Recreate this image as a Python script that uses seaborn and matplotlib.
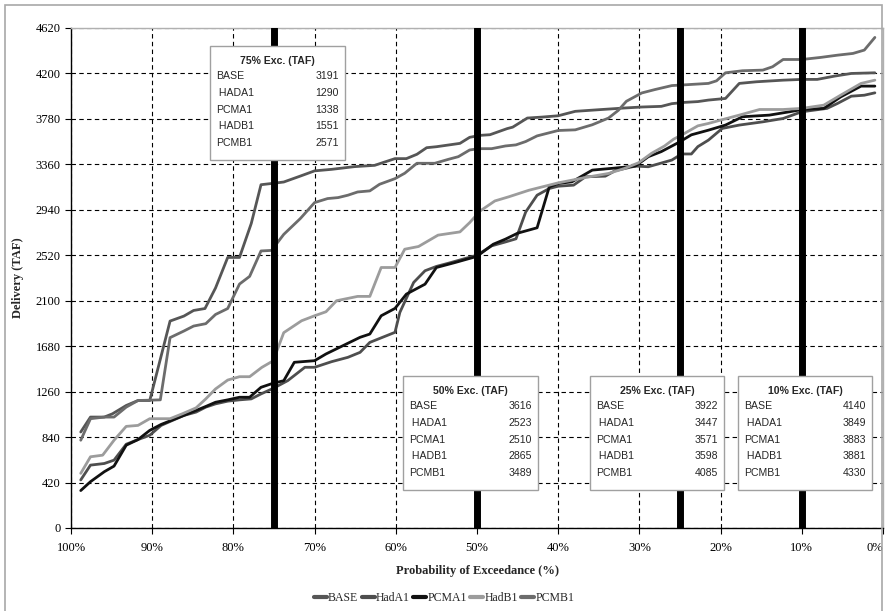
import pandas as pd
import matplotlib
matplotlib.use("Agg")
import matplotlib.pyplot as plt
import seaborn as sns
from matplotlib.patches import Rectangle

# exceedance curves (percent, TAF)
base_x = [98.8, 97.6, 95.9, 94.9, 93.2, 91.75, 90.3, 87.8, 86.1, 84.9, 83.5, 82.2, 80.7, 79.25, 77.8, 76.6, 75.1,
          73.8, 71.75, 70, 67.9, 65.1, 62.6, 61.6, 60.1, 58.7, 57.4, 56.2, 55, 52.1, 50.9, 49.6, 48.4, 46.3, 45.6,
          43.8, 41.96, 40, 37.9, 35, 31.8, 29.7, 27.3, 26, 24.4, 22.8, 21.5, 19.4, 17.7, 15.6, 12.3, 10, 8.1, 6,
          3.9, 1]
base_y = [887, 1025, 1025, 1055, 1132, 1178, 1178, 1912, 1958, 2010, 2028, 2218, 2500, 2500, 2814, 3172, 3185,
          3197, 3252, 3300, 3314, 3339, 3351, 3376, 3413, 3413, 3453, 3514, 3523, 3554, 3610, 3628, 3634, 3690,
          3704, 3788, 3797, 3809, 3850, 3865, 3881, 3890, 3896, 3921, 3933, 3940, 3954, 3969, 4108, 4123, 4138,
          4145, 4145, 4175, 4200, 4206]

hada1_x = [98.8, 97.6, 95.9, 94.7, 93.2, 91.75, 90.3, 88.9, 86.1, 84.6, 83.4, 82.2, 80.7, 79.25, 77.8, 76.6, 75.1,
           73.3, 71.2, 70, 67.9, 65.9, 64.4, 63.2, 60.1, 59.5, 57.8, 56.4, 55, 53.5, 50, 48.2, 46.5, 45.2, 44, 42.6,
           41.1, 40, 38.1, 36.65, 34.2, 33, 30.5, 28.9, 26, 24.8, 23.6, 22.8, 21.5, 19.8, 17.7, 14.8, 12.3, 10, 6.9,
           5.6, 3.9, 2.3, 1]
hada1_y = [444, 581, 596, 627, 774, 817, 857, 948, 1040, 1071, 1117, 1147, 1172, 1184, 1193, 1239, 1290, 1362,
           1485, 1485, 1537, 1577, 1623, 1715, 1808, 1992, 2269, 2377, 2417, 2447, 2521, 2607, 2643, 2672, 2920,
           3075, 3137, 3158, 3168, 3245, 3251, 3301, 3344, 3338, 3400, 3456, 3456, 3524, 3584, 3692, 3723, 3753,
           3784, 3846, 3877, 3923, 3990, 3999, 4021]

pcma1_x = [98.8, 97.6, 95.9, 94.7, 93.2, 91.75, 90.3, 88.9, 86.1, 84.6, 83.4, 82.2, 80.7, 79.25, 78, 76.6, 75.1,
           73.8, 72.5, 70, 68.6, 66.5, 64.4, 63.2, 61.8, 60.1, 58.7, 56.4, 55, 52.7, 50, 48, 46.5, 45, 42.6, 41.1,
           40, 38.3, 35.8, 33.4, 30.5, 28.9, 27.3, 25.2, 23.6, 21.5, 19.4, 17.3, 14, 11.5, 10, 7.3, 5.2, 2.7, 1]
pcma1_y = [346, 428, 520, 572, 765, 817, 902, 957, 1040, 1086, 1123, 1162, 1184, 1208, 1208, 1300, 1338, 1361,
           1531, 1546, 1608, 1685, 1762, 1792, 1961, 2029, 2161, 2253, 2407, 2453, 2510, 2622, 2669, 2724, 2774,
           3152, 3183, 3199, 3307, 3323, 3344, 3431, 3478, 3561, 3633, 3676, 3723, 3800, 3815, 3846, 3867, 3877,
           3984, 4083, 4083]

hadb1_x = [98.8, 97.6, 96.1, 94.7, 93.2, 91.75, 90.3, 87.8, 86.3, 84.6, 83.4, 82.2, 80.7, 79.25, 78, 76.5, 75.1,
           73.8, 71.6, 70, 68.6, 67.3, 64.7, 63.2, 61.8, 60.1, 58.9, 57.2, 54.8, 52.1, 50.9, 49.6, 47.8, 46.1,
           43.6, 41.96, 40, 38.3, 36.65, 33.8, 31.8, 30.1, 28.5, 26.9, 25.8, 24.4, 22.8, 21.5, 20, 17.7, 15.2, 12.3,
           10, 7.3, 5.2, 2.7, 1]
hadb1_y = [505, 658, 673, 811, 939, 948, 1010, 1010, 1055, 1110, 1193, 1285, 1367, 1398, 1398, 1484, 1545, 1805,
           1915, 1961, 1998, 2100, 2140, 2140, 2407, 2407, 2576, 2601, 2706, 2736, 2822, 2930, 3022, 3060, 3121,
           3152, 3189, 3214, 3239, 3276, 3323, 3375, 3462, 3530, 3592, 3648, 3716, 3738, 3769, 3815, 3867, 3867,
           3877, 3907, 4000, 4108, 4138]

pcmb1_x = [98.8, 97.6, 95.9, 94.7, 93.2, 91.75, 89, 87.8, 86.1, 84.9, 83.4, 82.2, 80.7, 79.25, 78, 76.6, 75.3,
           73.8, 71.75, 70, 68.4, 67.1, 65.9, 64.7, 63.2, 62, 60.1, 58.9, 57.4, 55.2, 53.5, 52.3, 50.9, 49.8, 48.2,
           46.5, 45.2, 44, 42.6, 40, 37.9, 35.8, 33.8, 32.6, 31.6, 29.7, 28.1, 26, 24.4, 21.5, 20.5, 19.4, 17.3,
           14.8, 13.6, 12.3, 10, 7.7, 5.6, 3.7, 2.3, 1]
pcmb1_y = [811, 1010, 1025, 1025, 1117, 1178, 1184, 1759, 1820, 1866, 1888, 1973, 2028, 2254, 2325, 2560, 2565,
           2713, 2860, 3007, 3044, 3053, 3075, 3105, 3115, 3176, 3228, 3278, 3370, 3370, 3407, 3431, 3493, 3505,
           3505, 3530, 3540, 3571, 3623, 3673, 3679, 3726, 3788, 3859, 3943, 4020, 4051, 4088, 4095, 4108, 4132,
           4206, 4225, 4231, 4262, 4329, 4329, 4348, 4369, 4385, 4416, 4533]

series_names = ["BASE", "HadA1", "PCMA1", "HadB1", "PCMB1"]
series_colors = ["#565656", "#4e4e4e", "#111111", "#9c9c9c", "#6c6c6c"]

# values shown in the text boxes
box_titles = ["75% Exc. (TAF)", "50% Exc. (TAF)", "25% Exc. (TAF)", "10% Exc. (TAF)"]
box_labels = ["BASE", " HADA1", "PCMA1", " HADB1", "PCMB1"]
box_values = [[3191, 1290, 1338, 1551, 2571],
              [3616, 2523, 2510, 2865, 3489],
              [3922, 3447, 3571, 3598, 4085],
              [4140, 3849, 3883, 3881, 4330]]
exc_levels = [75, 50, 25, 10]

xs = [base_x, hada1_x, pcma1_x, hadb1_x, pcmb1_x]
ys = [base_y, hada1_y, pcma1_y, hadb1_y, pcmb1_y]
frames = [pd.DataFrame({"pct": x, "val": y, "series": n}) for x, y, n in zip(xs, ys, series_names)]
df = pd.concat(frames, ignore_index=True)

sns.set_theme(style="white")
plt.rcParams["font.family"] = ["Liberation Serif", "DejaVu Serif"]

W, H = 888, 611
fig = plt.figure(figsize=(W / 100, H / 100), dpi=100)
ax = fig.add_axes([71 / W, 1 - 528 / H, (883 - 71) / W, (528 - 28) / H])

sns.lineplot(data=df, x="pct", y="val", hue="series", hue_order=series_names,
             palette=dict(zip(series_names, series_colors)), estimator=None,
             linewidth=2.0, ax=ax, zorder=3)

for lv in exc_levels:
    ax.axvline(lv, color="black", linewidth=5, zorder=4)

ax.set_xlim(100, 0)
ax.set_ylim(0, 4620)
ax.set_xticks(range(0, 101, 10))
ax.set_xticklabels([f"{v}%" for v in range(0, 101, 10)])
ax.set_yticks(range(0, 4621, 420))
ax.tick_params(axis="both", labelsize=9, direction="out", length=4, width=0.8,
               bottom=True, left=True, colors="black")
ax.tick_params(axis="x", pad=6)
# keep the "0%" label inside the picture
ax.get_xticklabels()[0].set_horizontalalignment("right")
ax.grid(True, color="black", linestyle=(0, (4, 3)), linewidth=0.8)
for s in ["left", "bottom"]:
    ax.spines[s].set_color("black")
    ax.spines[s].set_linewidth(1)
for s in ["top", "right"]:
    ax.spines[s].set_color("#b0b0b0")
    ax.spines[s].set_linewidth(1)

ax.set_xlabel("Probability of Exceedance (%)", fontsize=9, fontweight="bold", labelpad=8)
ax.set_ylabel("Delivery (TAF)", fontsize=9, fontweight="bold", labelpad=8)

handles, labels = ax.get_legend_handles_labels()
ax.get_legend().remove()
for h in handles:
    h.set_linewidth(3)
fig.legend(handles, labels, loc="center", bbox_to_anchor=(0.5, 1 - 598 / H), ncol=5, frameon=False,
           fontsize=8.5, handlelength=1.1, handletextpad=0.1, columnspacing=0.3)

# outer chart border
fig.patches.append(Rectangle((5 / W, -0.01), (882 - 5) / W, 1 - 5 / H + 0.01, transform=fig.transFigure,
                             fill=False, edgecolor="#a8a8a8", linewidth=1.2))

# text boxes (pixel layout)
box_rects = [(210, 46, 345), (403, 376, 538), (590, 376, 724), (738, 376, 872)]
sans = ["Liberation Sans", "DejaVu Sans"]
for (left, top, right), title, vals in zip(box_rects, box_titles, box_values):
    fig.patches.append(Rectangle((left / W, 1 - (top + 114) / H), (right - left) / W, 114 / H,
                                 transform=fig.transFigure, facecolor="white", edgecolor="#a0a0a0",
                                 linewidth=1, zorder=10))
    fig.text((left + right) / 2 / W, 1 - (top + 15) / H, title, ha="center", va="center",
             fontsize=7.6, fontweight="bold", family=sans, zorder=11)
    for i, (lab, v) in enumerate(zip(box_labels, vals)):
        yy = 1 - (top + 30 + i * 16.8) / H
        fig.text((left + 6) / W, yy, lab, ha="left", va="center", fontsize=7.6, family=sans, zorder=11)
        fig.text((right - 6) / W, yy, str(v), ha="right", va="center", fontsize=7.6, family=sans, zorder=11)

fig.savefig("out.png", dpi=100)
